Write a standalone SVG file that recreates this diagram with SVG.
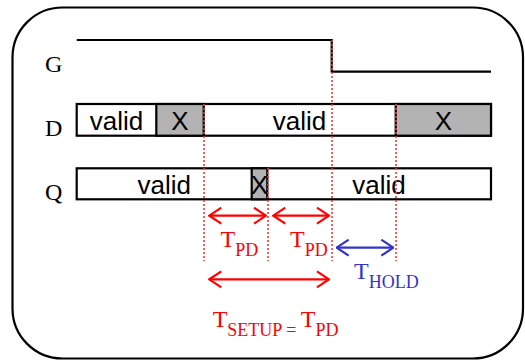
<svg xmlns="http://www.w3.org/2000/svg" width="525" height="360" viewBox="0 0 525 360">
<style>
.frame{fill:#fff;stroke:#000;stroke-width:2.2}
.sig{fill:none;stroke:#000;stroke-width:2.2}
.bar{fill:#fff;stroke:#000;stroke-width:2.2}
.gray{fill:#b3b3b3;stroke:#000;stroke-width:2.2}
.lbl{font-family:"Liberation Serif","Times New Roman",serif;font-size:24px;fill:#000}
.val{font-family:"Liberation Sans",Arial,sans-serif;font-size:26px;fill:#000;text-anchor:middle}
.dot{stroke:#ff3333;stroke-width:1.6;stroke-dasharray:2,2;fill:none}
.red{stroke:#ff0000;stroke-width:2.2;fill:none}
.blue{stroke:#3333cc;stroke-width:2.2;fill:none}
.tr{font-family:"Liberation Serif","Times New Roman",serif;font-size:24px;fill:#ff0000}
.tb{font-family:"Liberation Serif","Times New Roman",serif;font-size:24px;fill:#3333cc}
.sub{font-size:18px}
</style>
<defs>
<marker id="ar" viewBox="0 0 14 18" refX="13" refY="9" markerWidth="14" markerHeight="18" markerUnits="userSpaceOnUse" orient="auto-start-reverse">
<path d="M1,1 L13,9 L1,17" fill="none" stroke="#ff0000" stroke-width="2.2"/>
</marker>
<marker id="ab" viewBox="0 0 14 18" refX="13" refY="9" markerWidth="14" markerHeight="18" markerUnits="userSpaceOnUse" orient="auto-start-reverse">
<path d="M1,1 L13,9 L1,17" fill="none" stroke="#3333cc" stroke-width="2.2"/>
</marker>
</defs>
<rect class="frame" x="12.5" y="7.5" width="510.5" height="351" rx="50" ry="50"/>

<g id="G">
<text class="lbl" x="45" y="72">G</text>
<path class="sig" d="M76.7,40 H331.7 V71.7 H491"/>
</g>

<g id="D">
<text class="lbl" x="45" y="135.5">D</text>
<rect class="bar" x="76.7" y="104" width="414.3" height="31.7"/>
<rect class="gray" x="156.3" y="104" width="47.4" height="31.7"/>
<rect class="gray" x="395.7" y="104" width="95.3" height="31.7"/>
<text class="val" x="116.5" y="130">valid</text>
<text class="val" x="180" y="130">X</text>
<text class="val" x="299.5" y="130">valid</text>
<text class="val" x="443.3" y="130">X</text>
</g>

<g id="Q">
<text class="lbl" x="45" y="199.5">Q</text>
<rect class="bar" x="76.7" y="168.3" width="414.3" height="31"/>
<rect class="gray" x="251.7" y="168.3" width="15.6" height="31"/>
<text class="val" x="164.2" y="194.3">valid</text>
<text class="val" x="259.5" y="194.3">X</text>
<text class="val" x="379" y="194.3">valid</text>
</g>

<g id="connectors">
<line class="dot" x1="204" y1="104" x2="204" y2="261"/>
<line class="dot" x1="268" y1="168" x2="268" y2="261"/>
<line class="dot" x1="332" y1="40" x2="332" y2="261"/>
<line class="dot" x1="396" y1="104" x2="396" y2="261"/>
<line class="red" x1="209.3" y1="215.7" x2="266" y2="215.7" marker-start="url(#ar)" marker-end="url(#ar)"/>
<line class="red" x1="273.3" y1="215.7" x2="329" y2="215.7" marker-start="url(#ar)" marker-end="url(#ar)"/>
<line class="blue" x1="336.7" y1="247.7" x2="393.3" y2="247.7" marker-start="url(#ab)" marker-end="url(#ab)"/>
<line class="red" x1="209.3" y1="279.3" x2="329" y2="279.3" marker-start="url(#ar)" marker-end="url(#ar)"/>
</g>

<g id="labels">
<text class="tr" x="220.5" y="247.3">T<tspan class="sub" dy="8.4">PD</tspan></text>
<text class="tr" x="290" y="247.3">T<tspan class="sub" dy="8.4">PD</tspan></text>
<text class="tb" x="354" y="279.3">T<tspan class="sub" dy="8.4">HOLD</tspan></text>
<text class="tr" x="212.7" y="327">T<tspan class="sub" dy="8.7">SETUP = </tspan><tspan dy="-8.7">T</tspan><tspan class="sub" dy="8.7">PD</tspan></text>
</g>
</svg>
